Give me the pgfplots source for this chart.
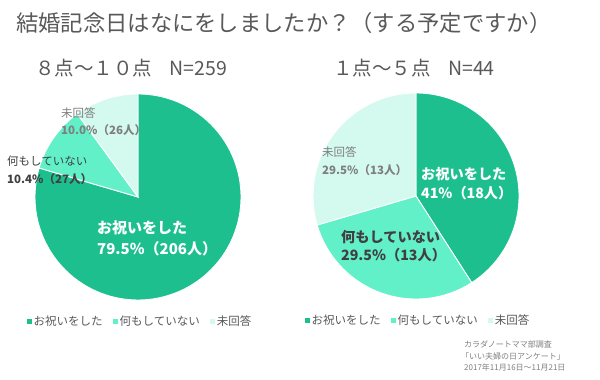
\documentclass[border=0pt]{standalone}
\usepackage{pgfplots}
\pgfplotsset{compat=1.18}
\usepackage{pgfplotstable}
\usepackage{fontspec}
\setmainfont{Noto Sans CJK JP}
\definecolor{cA}{HTML}{1DBF8E}
\definecolor{cB}{HTML}{62F0C9}
\definecolor{cC}{HTML}{D4FAEF}
\definecolor{tgray}{HTML}{595959}
\definecolor{lgray}{HTML}{7F7F7F}
\definecolor{dgray}{HTML}{404040}

\pgfplotstableread{
cat n
1 206
2 27
3 26
}\tableL
\pgfplotstableread{
cat n
1 18
2 13
3 13
}\tableR

\newcommand{\fs}[1]{\fontsize{#1}{#1}\selectfont}

\pgfplotsset{
  pieaxis/.style={
    width=206pt, height=206pt, scale only axis,
    xmin=-1, xmax=1, ymin=-1, ymax=1,
    hide axis, clip=false, anchor=center,
    legend columns=3,
    legend image code/.code={\fill[##1,draw=none] (0pt,-2.5pt) rectangle (5pt,2.5pt);},
    legend style={draw=none, fill=none, at={(0.51,-0.105)}, anchor=center,
      font=\fs{11.5}, text=tgray,
      nodes={inner xsep=2pt, inner ysep=1pt},
      /tikz/every even column/.append style={column sep=8pt}},
  },
  wedge/.style={draw=white, line width=0.9pt, samples=150, variable=\t},
}

\begin{document}
\begin{tikzpicture}
\fill[white] (0pt,0pt) rectangle (600pt,380pt);
\path[use as bounding box] (0pt,0pt) rectangle (600pt,380pt);

% angles, left pie
\pgfplotstablegetelem{0}{n}\of\tableL \pgfmathsetmacro{\la}{\pgfplotsretval}
\pgfplotstablegetelem{1}{n}\of\tableL \pgfmathsetmacro{\lb}{\pgfplotsretval}
\pgfplotstablegetelem{2}{n}\of\tableL \pgfmathsetmacro{\lc}{\pgfplotsretval}
\pgfmathsetmacro{\lt}{\la+\lb+\lc}
\pgfmathsetmacro{\leA}{90-360*(\la/\lt)}
\pgfmathsetmacro{\leB}{\leA-360*(\lb/\lt)}
% angles, right pie
\pgfplotstablegetelem{0}{n}\of\tableR \pgfmathsetmacro{\ra}{\pgfplotsretval}
\pgfplotstablegetelem{1}{n}\of\tableR \pgfmathsetmacro{\rb}{\pgfplotsretval}
\pgfplotstablegetelem{2}{n}\of\tableR \pgfmathsetmacro{\rc}{\pgfplotsretval}
\pgfmathsetmacro{\rt}{\ra+\rb+\rc}
\pgfmathsetmacro{\reA}{90-360*(\ra/\rt)}
\pgfmathsetmacro{\reB}{\reA-360*(\rb/\rt)}

\begin{axis}[pieaxis, at={(138pt,183pt)}]
\addplot[wedge, fill=cA, domain=\leA:90] ({cos(t)},{sin(t)}) -- (axis cs:0,0) -- cycle;
\addlegendentry{お祝いをした}
\addplot[wedge, fill=cB, domain=\leB:\leA] ({cos(t)},{sin(t)}) -- (axis cs:0,0) -- cycle;
\addlegendentry{何もしていない}
\addplot[wedge, fill=cC, domain=-270:\leB] ({cos(t)},{sin(t)}) -- (axis cs:0,0) -- cycle;
\addlegendentry{未回答}
\end{axis}

\begin{axis}[pieaxis, at={(416pt,184pt)}]
\addplot[wedge, fill=cA, domain=\reA:90] ({cos(t)},{sin(t)}) -- (axis cs:0,0) -- cycle;
\addlegendentry{お祝いをした}
\addplot[wedge, fill=cB, domain=\reB:\reA] ({cos(t)},{sin(t)}) -- (axis cs:0,0) -- cycle;
\addlegendentry{何もしていない}
\addplot[wedge, fill=cC, domain=-270:\reB] ({cos(t)},{sin(t)}) -- (axis cs:0,0) -- cycle;
\addlegendentry{未回答}
\end{axis}

% titles
\node[anchor=west, inner sep=0, text=tgray, font=\fs{22.3}] at (16pt,357pt) {結婚記念日はなにをしましたか？（する予定ですか）};
\node[anchor=west, inner sep=0, text=tgray, font=\fs{19.5}] at (35pt,312pt) {８点～１０点\hspace{0.9em}N=259};
\node[anchor=west, inner sep=0, text=tgray, font=\fs{19.5}] at (333pt,312pt) {１点～５点\hspace{0.9em}N=44};

% left pie labels
\node[anchor=west, inner sep=0, text=white, font=\fs{15}\bfseries] at (97pt,152pt) {お祝いをした};
\node[anchor=west, inner sep=0, text=white, font=\fs{15}\bfseries] at (97pt,131pt) {79.5\%（206人）};
\node[anchor=west, inner sep=0, text=lgray, font=\fs{11.5}] at (61pt,267pt) {未回答};
\node[anchor=west, inner sep=0, text=lgray, font=\fs{11.5}\bfseries] at (61pt,250pt) {10.0\%（26人）};
\node[anchor=west, inner sep=0, text=dgray, font=\fs{11.5}] at (7pt,219pt) {何もしていない};
\node[anchor=west, inner sep=0, text=dgray, font=\fs{11.5}\bfseries] at (7pt,201pt) {10.4\%（27人）};

% right pie labels
\node[anchor=west, inner sep=0, text=white, font=\fs{14.2}\bfseries] at (421pt,206pt) {お祝いをした};
\node[anchor=west, inner sep=0, text=white, font=\fs{14.2}\bfseries] at (421pt,187pt) {41\%（18人）};
\node[anchor=west, inner sep=0, text=dgray, font=\fs{14.2}\bfseries] at (341pt,143pt) {何もしていない};
\node[anchor=west, inner sep=0, text=dgray, font=\fs{14.2}\bfseries] at (341pt,125pt) {29.5\%（13人）};
\node[anchor=west, inner sep=0, text=lgray, font=\fs{11.5}] at (322pt,228pt) {未回答};
\node[anchor=west, inner sep=0, text=lgray, font=\fs{11.5}\bfseries] at (322pt,210pt) {29.5\%（13人）};

% source
\node[anchor=base west, inner sep=0, text=lgray, font=\fs{8}] at (464pt,32pt) {カラダノートママ部調査};
\node[anchor=base west, inner sep=0, text=lgray, font=\fs{8}] at (461pt,20.5pt) {「いい夫婦の日アンケート」};
\node[anchor=base west, inner sep=0, text=lgray, font=\fs{8}] at (464pt,9pt) {2017年11月16日～11月21日};
\end{tikzpicture}
\end{document}
